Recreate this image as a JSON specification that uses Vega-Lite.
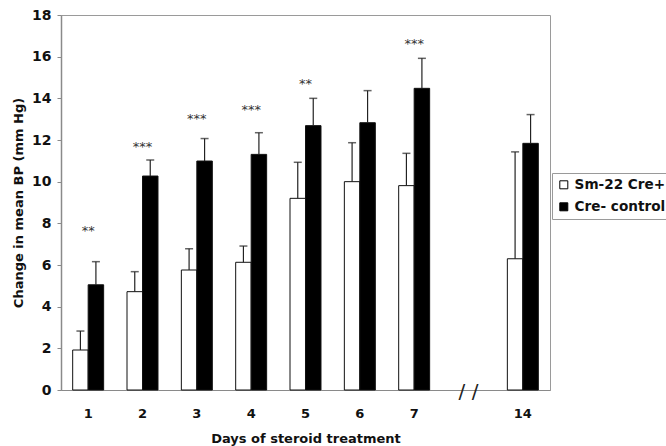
{
  "$schema": "https://vega.github.io/schema/vega-lite/v6.json",
  "autosize": {"type": "none"},
  "padding": {"left": 61, "top": 15, "right": 116, "bottom": 56},
  "width": 489,
  "height": 375,
  "background": "white",
  "config": {
    "view": {"stroke": "#9a9a9a", "strokeWidth": 1},
    "font": "DejaVu Sans"
  },
  "datasets": {
    "bp": [
      {"day": "1", "group": "Sm-22 Cre+", "value": 1.92, "err": 2.83},
      {"day": "1", "group": "Cre- control", "value": 5.05, "err": 6.16},
      {"day": "2", "group": "Sm-22 Cre+", "value": 4.72, "err": 5.68},
      {"day": "2", "group": "Cre- control", "value": 10.27, "err": 11.04},
      {"day": "3", "group": "Sm-22 Cre+", "value": 5.76, "err": 6.78},
      {"day": "3", "group": "Cre- control", "value": 10.99, "err": 12.07},
      {"day": "4", "group": "Sm-22 Cre+", "value": 6.13, "err": 6.91},
      {"day": "4", "group": "Cre- control", "value": 11.31, "err": 12.35},
      {"day": "5", "group": "Sm-22 Cre+", "value": 9.2, "err": 10.93},
      {"day": "5", "group": "Cre- control", "value": 12.69, "err": 14.0},
      {"day": "6", "group": "Sm-22 Cre+", "value": 10.0, "err": 11.87},
      {"day": "6", "group": "Cre- control", "value": 12.83, "err": 14.37},
      {"day": "7", "group": "Sm-22 Cre+", "value": 9.81, "err": 11.36},
      {"day": "7", "group": "Cre- control", "value": 14.48, "err": 15.92},
      {"day": "14", "group": "Sm-22 Cre+", "value": 6.3, "err": 11.43},
      {"day": "14", "group": "Cre- control", "value": 11.84, "err": 13.22}
    ],
    "sig": [
      {"day": "1", "y": 7.79, "label": "**"},
      {"day": "2", "y": 11.8, "label": "***"},
      {"day": "3", "y": 13.17, "label": "***"},
      {"day": "4", "y": 13.6, "label": "***"},
      {"day": "5", "y": 14.83, "label": "**"},
      {"day": "7", "y": 16.77, "label": "***"}
    ],
    "brk": [
      {"day": "gap", "y": 0, "label": "/ /"}
    ]
  },
  "encoding": {
    "x": {
      "field": "day",
      "type": "nominal",
      "scale": {
        "domain": ["1", "2", "3", "4", "5", "6", "7", "gap", "14"],
        "paddingInner": 0.43,
        "paddingOuter": 0.215
      },
      "axis": {
        "title": "Days of steroid treatment",
        "labelAngle": 0,
        "labelExpr": "datum.value == 'gap' ? '' : datum.value",
        "ticks": false,
        "domainColor": "#8a8a8a",
        "domainWidth": 1,
        "labelFont": "DejaVu Sans",
        "labelFontWeight": "bold",
        "labelFontSize": 13,
        "labelColor": "#111",
        "labelPadding": 17,
        "titleFont": "DejaVu Sans",
        "titleFontWeight": "bold",
        "titleFontSize": 13,
        "titleColor": "#111",
        "titlePadding": 12
      }
    }
  },
  "layer": [
    {
      "data": {"name": "bp"},
      "mark": {"type": "bar", "stroke": "#111", "strokeWidth": 1},
      "encoding": {
        "xOffset": {"field": "group", "type": "nominal", "scale": {"domain": ["Sm-22 Cre+", "Cre- control"]}},
        "y": {
          "field": "value",
          "type": "quantitative",
          "scale": {"domain": [0, 18], "nice": false},
          "axis": {
            "title": "Change in mean BP (mm Hg)",
            "values": [0, 2, 4, 6, 8, 10, 12, 14, 16, 18],
            "grid": false,
            "domainColor": "#8a8a8a",
            "domainWidth": 1.5,
            "tickColor": "#8a8a8a",
            "tickSize": 4,
            "labelPadding": 6,
            "labelFont": "DejaVu Sans",
            "labelFontWeight": "bold",
            "labelFontSize": 14,
            "labelColor": "#111",
            "titleFont": "DejaVu Sans",
            "titleFontWeight": "bold",
            "titleFontSize": 13,
            "titleColor": "#111",
            "titlePadding": 6
          }
        },
        "fill": {
          "field": "group",
          "type": "nominal",
          "scale": {"domain": ["Sm-22 Cre+", "Cre- control"], "range": ["#ffffff", "#000000"]},
          "legend": {
            "title": null,
            "orient": "none",
            "legendX": 491,
            "legendY": 158,
            "strokeColor": "#9a9a9a",
            "fillColor": "white",
            "padding": 5,
            "rowPadding": 7,
            "symbolType": "square",
            "symbolSize": 64,
            "symbolStrokeColor": "#000",
            "symbolStrokeWidth": 1,
            "labelOffset": 4,
            "labelFont": "DejaVu Sans",
            "labelFontWeight": "bold",
            "labelFontSize": 13.6,
            "labelColor": "#111",
            "labelLimit": 200
          }
        }
      }
    },
    {
      "data": {"name": "bp"},
      "mark": {"type": "rule", "color": "#222", "strokeWidth": 1.2},
      "encoding": {
        "xOffset": {"field": "group", "type": "nominal"},
        "y": {"field": "value", "type": "quantitative"},
        "y2": {"field": "err"}
      }
    },
    {
      "data": {"name": "bp"},
      "mark": {"type": "tick", "color": "#222", "size": 8, "thickness": 1.5},
      "encoding": {
        "xOffset": {"field": "group", "type": "nominal"},
        "y": {"field": "err", "type": "quantitative"}
      }
    },
    {
      "data": {"name": "sig"},
      "mark": {"type": "text", "font": "DejaVu Sans", "fontSize": 13, "color": "#333", "baseline": "alphabetic", "dy": 7},
      "encoding": {
        "y": {"field": "y", "type": "quantitative"},
        "text": {"field": "label"}
      }
    },
    {
      "data": {"name": "brk"},
      "mark": {"type": "text", "font": "DejaVu Sans", "fontSize": 20, "color": "#222", "baseline": "middle", "dy": 2},
      "encoding": {
        "y": {"field": "y", "type": "quantitative"},
        "text": {"field": "label"}
      }
    }
  ]
}
